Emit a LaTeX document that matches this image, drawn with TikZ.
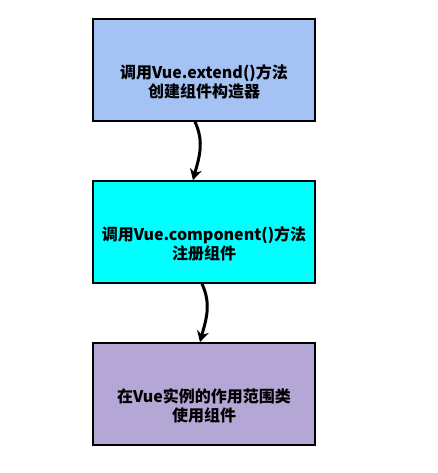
\documentclass[tikz,border=0pt]{standalone}
\usepackage{fontspec}
\usepackage{tikz}
\usetikzlibrary{arrows.meta,positioning}
\newfontfamily\cjk{Noto Sans CJK SC}
\definecolor{StepBlue}{HTML}{A4C2F4}
\definecolor{StepCyan}{HTML}{00FFFF}
\definecolor{StepPurple}{HTML}{B4A7D6}
\tikzset{%
  StepBox/.style={draw,line width=1.8pt,minimum width=222pt,minimum height=102pt},
  StepText/.style={align=center,font=\cjk\bfseries\fontsize{16pt}{19pt}\selectfont},
  StepArrow/.style={-{Stealth[length=11pt,width=12pt]},line width=3pt}
}

\begin{document}
\begin{tikzpicture}
  \useasboundingbox (0,0) rectangle (438pt,-473pt);
  \foreach \name/\shade [count=\xi] in {
    {调用Vue.extend()方法\\创建组件构造器}/StepBlue,
    {调用Vue.component()方法\\注册组件}/StepCyan,
    {在Vue实例的作用范围类\\使用组件}/StepPurple}{
    \node[StepBox,fill=\shade] (n\xi) at (204pt,{-70pt-162pt*(\xi-1)}) {};
    \node[StepText] (t\xi) at ([yshift=-12pt]n\xi.center) {\name};
  }
  \draw[StepArrow] ([xshift=-9pt]n1.south) to[out=-65,in=75] ([xshift=-11pt]n2.north);
  \draw[StepArrow] ([xshift=-2pt]n2.south) to[out=-65,in=75] ([xshift=-4pt]n3.north);
\end{tikzpicture}
\end{document}
